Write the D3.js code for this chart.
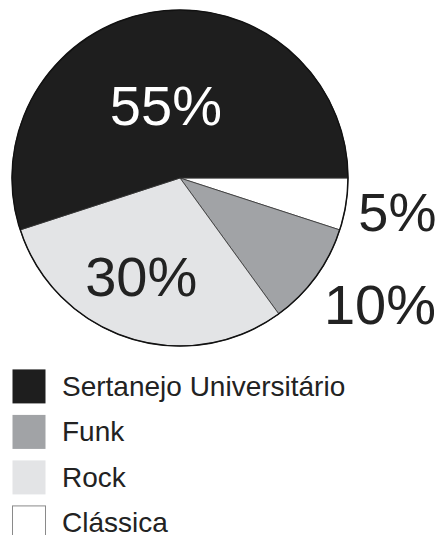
<!DOCTYPE html>
<html>
<head>
<meta charset="utf-8">
<script src="https://cdn.jsdelivr.net/npm/d3@7"></script>
<style>
  body { margin: 0; background: #fff; }
  svg { display: block; font-family: Arial, "Liberation Sans", sans-serif; }
</style>
</head>
<body>
<div id="chart"></div>
<script>
// DATA
let categories = ["Clássica", "Funk", "Rock", "Sertanejo Universitário"]
let values = [5, 10, 30, 55]
let slice_labels = ["5%", "10%", "30%", "55%"]
let legend_order = ["Sertanejo Universitário", "Funk", "Rock", "Clássica"]

// CHART AREA
let width = 443, height = 535
let cx = 180, cy = 178, radius = 168

let svg = d3.select("#chart").append("svg")
    .attr("width", width)
    .attr("height", height)

let color = d3.scaleOrdinal()
    .domain(categories)
    .range(["#ffffff", "#a1a3a6", "#e3e4e6", "#1e1e1e"])

// PIE
let pie = d3.pie()
    .sort(null)
    .value(d => d.value)
    .startAngle(Math.PI / 2)
    .endAngle(Math.PI / 2 + 2 * Math.PI)

let arc = d3.arc().innerRadius(0).outerRadius(radius)

let pie_data = pie(categories.map((c, i) => ({cat: c, value: values[i], label: slice_labels[i]})))

let g = svg.append("g")
    .attr("transform", "translate(" + cx + "," + cy + ")")

g.selectAll(".slice")
    .data(pie_data)
    .enter()
    .append("path")
    .attr("class", "slice")
    .attr("d", arc)
    .attr("fill", d => color(d.data.cat))
    .attr("stroke", "#333")
    .attr("stroke-width", 0.8)

g.append("circle")
    .attr("r", radius)
    .attr("fill", "none")
    .attr("stroke", "#111")
    .attr("stroke-width", 1.5)

// LABELS: radius as fraction of pie radius, small angle nudge in degrees
let label_pos = {
    "Sertanejo Universitário": {r: 0.44, da: -2, fill: "#ffffff", size: 56},
    "Rock": {r: 0.63, da: 3.5, fill: "#222222", size: 56},
    "Funk": {r: 1.41, da: -3.6, fill: "#222222", size: 56},
    "Clássica": {r: 1.31, da: 0, fill: "#222222", size: 54}
}

function label_xy(d) {
    let p = label_pos[d.data.cat]
    let a = (d.startAngle + d.endAngle) / 2 + p.da * Math.PI / 180
    let r = radius * p.r
    return [r * Math.sin(a), -r * Math.cos(a)]
}

g.selectAll(".lbl")
    .data(pie_data)
    .enter()
    .append("text")
    .attr("class", "lbl")
    .attr("text-anchor", "middle")
    .attr("dominant-baseline", "central")
    .attr("font-size", d => label_pos[d.data.cat].size)
    .attr("fill", d => label_pos[d.data.cat].fill)
    .attr("x", d => label_xy(d)[0])
    .attr("y", d => label_xy(d)[1])
    .text(d => d.data.label)

// LEGEND
let legend_y = d3.scaleBand()
    .domain(legend_order)
    .range([363, 545])
    .paddingInner(0.26)
    .paddingOuter(0.13)

let legend = svg.selectAll(".legend")
    .data(legend_order)
    .enter()
    .append("g")
    .attr("class", "legend")
    .attr("transform", d => "translate(12," + legend_y(d) + ")")

legend.append("rect")
    .attr("x", 0.5)
    .attr("y", 0.5)
    .attr("width", 33)
    .attr("height", 34)
    .attr("fill", d => color(d))
    .attr("stroke", d => d == "Clássica" ? "#8a8a8a" : "none")

legend.append("text")
    .attr("x", 50)
    .attr("y", 27)
    .attr("font-size", 28)
    .attr("fill", "#222")
    .text(d => d)
</script>
</body>
</html>
